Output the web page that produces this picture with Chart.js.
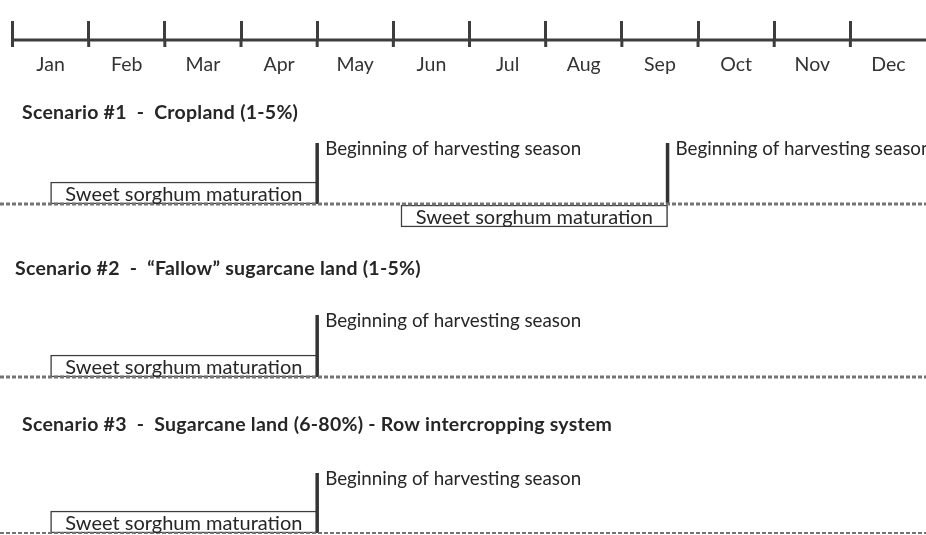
<!DOCTYPE html>
<html>
<head>
<meta charset="utf-8">
<title>Sweet sorghum scenarios</title>
<script src="https://cdn.jsdelivr.net/npm/chart.js@4.4.1/dist/chart.umd.min.js"></script>
<style>
    html, body { margin: 0; padding: 0; background: #fff; overflow: hidden; }
    #wrap { width: 926px; height: 535px; position: relative; }
</style>
</head>
<body>
<div id="wrap"><canvas id="timeline"></canvas></div>
<script>
// ---- data (months counted from 1 January: 0 = start of Jan) ----
const MONTHS = ['Jan', 'Feb', 'Mar', 'Apr', 'May', 'Jun', 'Jul', 'Aug', 'Sep', 'Oct', 'Nov', 'Dec'];
const SCENARIO_TITLES = [
    'Scenario #1  -  Cropland (1-5%)',
    'Scenario #2  -  \u201cFallow\u201d sugarcane land (1-5%)',
    'Scenario #3  -  Sugarcane land (6-80%) - Row intercropping system'
];
const MATURATION_START = [[0.5, 5.1], [0.5], [0.5]];
const MATURATION_END = [[4.0, 8.6], [4.0], [4.0]];
const HARVEST_START = [[4.0, 8.6], [4.0], [4.0]];
const MATURATION_LABEL = 'Sweet sorghum maturation';
const HARVEST_LABEL = 'Beginning of harvesting season';

// ---- layout / style ----
const PX_PER_MONTH = 76.17;
const AXIS_LEFT_PX = 12.5;
const X_MIN = -AXIS_LEFT_PX / PX_PER_MONTH;
const X_MAX = X_MIN + 926 / PX_PER_MONTH;
const AXIS_HEIGHT = 40;
// y units are pixels below the month axis
const LANE_BASE = [164, 337, 493];
const TITLE_BASE = [79, 235, 391];
const TITLE_LEFT = [22, 15, 22];
const BOX_BELOW = [[false, true], [false], [false]];
const HARVEST_RISE = [61, 62, 60];
const BASELINE_WIDTH = [3, 3, 2];
const BOX_HEIGHT = 22;
const DARK = '#3d3d3d';
const TEXT = '#262626';
const FONT = 'Lato';
const LABEL_SIZE = 18.8;
const BOX_LABEL_SIZE = 20;
const TITLE_SIZE = 19.5;
const MONTH_SIZE = 19.5;

const boxData = [];
MATURATION_START.forEach((starts, s) => {
    starts.forEach((start, k) => {
        const below = BOX_BELOW[s][k];
        boxData.push({
            x: [start, MATURATION_END[s][k]],
            y: LANE_BASE[s] + (below ? BOX_HEIGHT / 2 + 1 : -BOX_HEIGHT / 2)
        });
    });
});

const datasets = [{
    type: 'bar',
    role: 'box',
    data: boxData,
    indexAxis: 'y',
    barThickness: BOX_HEIGHT,
    backgroundColor: '#ffffff',
    borderColor: DARK,
    borderWidth: 1.5,
    borderSkipped: false,
    order: 4
}];

HARVEST_START.forEach((starts, s) => {
    starts.forEach(h => {
        datasets.push({
            type: 'line',
            role: 'harvest',
            data: [{ x: h, y: LANE_BASE[s] }, { x: h, y: LANE_BASE[s] - HARVEST_RISE[s] }],
            borderColor: '#333333',
            borderWidth: 3.5,
            pointRadius: 0,
            clip: false,
            order: 3
        });
    });
});

LANE_BASE.forEach((base, s) => {
    datasets.push({
        type: 'line',
        role: 'baseline',
        data: [{ x: X_MIN, y: base }, { x: X_MAX, y: base }],
        borderColor: '#747474',
        borderWidth: BASELINE_WIDTH[s],
        borderDash: [4, 2],
        pointRadius: 0,
        clip: false,
        order: 2
    });
});

// month axis line and the short tick stubs below it
datasets.push({
    type: 'line',
    role: 'axis',
    data: [{ x: 0, y: 0 }, { x: X_MAX, y: 0 }],
    borderColor: DARK,
    borderWidth: 3,
    pointRadius: 0,
    clip: false,
    order: 1
});
datasets.push({
    type: 'scatter',
    role: 'stubs',
    data: MONTHS.map((m, i) => ({ x: i, y: 3.5 })),
    pointStyle: 'line',
    pointRotation: 90,
    pointRadius: 3.5,
    pointBorderWidth: 3,
    pointBorderColor: DARK,
    clip: false,
    order: 0
});

const textPlugin = {
    id: 'timelineText',
    afterDatasetsDraw(chart) {
        const { ctx, chartArea } = chart;
        const y = chart.scales.y;
        ctx.save();
        ctx.fillStyle = TEXT;
        ctx.textBaseline = 'alphabetic';

        ctx.font = `bold ${TITLE_SIZE}px ${FONT}`;
        ctx.letterSpacing = '0.25px';
        ctx.textAlign = 'left';
        SCENARIO_TITLES.forEach((title, s) => {
            ctx.fillText(title, chartArea.left + TITLE_LEFT[s], y.getPixelForValue(TITLE_BASE[s]));
        });
        ctx.letterSpacing = '0px';

        chart.data.datasets.forEach((ds, i) => {
            const meta = chart.getDatasetMeta(i);
            if (ds.role === 'box') {
                ctx.font = `${BOX_LABEL_SIZE}px ${FONT}`;
                ctx.textAlign = 'center';
                meta.data.forEach(bar => {
                    const p = bar.getProps(['x', 'base', 'y', 'height'], true);
                    ctx.fillText(MATURATION_LABEL, (p.x + p.base) / 2, p.y + p.height / 2 - 3.5);
                });
            } else if (ds.role === 'harvest') {
                ctx.font = `${LABEL_SIZE}px ${FONT}`;
                ctx.textAlign = 'left';
                const top = meta.data[1];
                ctx.fillText(HARVEST_LABEL, top.x + 8, top.y + 12);
            }
        });
        ctx.restore();
    }
};

new Chart(document.getElementById('timeline'), {
    type: 'scatter',
    data: { datasets },
    options: {
        responsive: true,
        maintainAspectRatio: false,
        animation: false,
        events: [],
        layout: { padding: 0, autoPadding: false },
        plugins: {
            legend: { display: false },
            tooltip: { enabled: false }
        },
        scales: {
            x: {
                type: 'linear',
                position: 'top',
                min: X_MIN,
                max: X_MAX,
                offset: false,
                afterBuildTicks(scale) {
                    scale.ticks = MONTHS.map((m, i) => ({ value: i + 0.5 }));
                },
                afterFit(scale) {
                    scale.height = AXIS_HEIGHT;
                },
                ticks: {
                    callback: (value, index) => MONTHS[index],
                    mirror: true,
                    padding: 12.8,
                    maxRotation: 0,
                    autoSkip: false,
                    color: '#333333',
                    font: { family: FONT, size: MONTH_SIZE, lineHeight: 1.2 }
                },
                grid: {
                    offset: true,
                    drawOnChartArea: false,
                    drawTicks: true,
                    tickLength: 19,
                    color: DARK,
                    lineWidth: 3,
                    tickWidth: 3
                },
                border: { display: false }
            },
            y: {
                type: 'linear',
                display: false,
                reverse: true,
                min: 0,
                max: 535 - AXIS_HEIGHT,
                offset: false
            }
        }
    },
    plugins: [textPlugin]
});
</script>
</body>
</html>
